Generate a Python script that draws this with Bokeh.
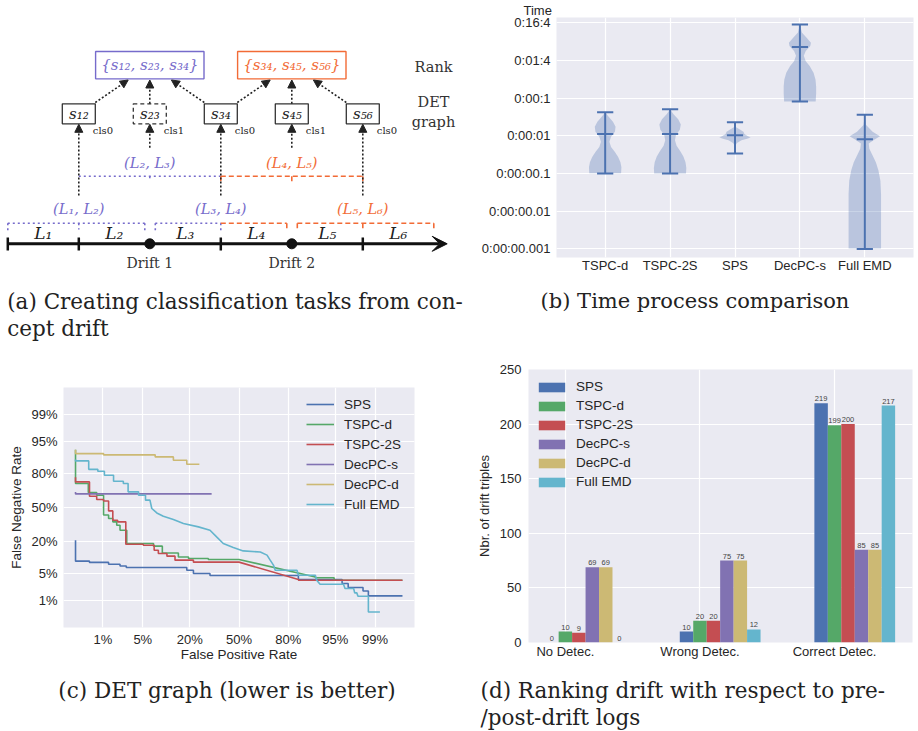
import math
from statistics import NormalDist
from bokeh.plotting import figure
from bokeh.layouts import column, row
from bokeh.models import (Range1d, FixedTicker, Legend, LegendItem,
                          Arrow, NormalHead, VeeHead, CustomJSTickFormatter)
from bokeh.core.properties import value
from bokeh.embed import file_html
from bokeh.resources import INLINE

# ---------------- DATA ----------------
# (a) diagram content
log_names = ["L₁", "L₂", "L₃", "L₄", "L₅", "L₆"]
drift_names = ["Drift 1", "Drift 2"]
drift_boundary = [2, 4]
tick_boundaries = [0, 1, 3, 5]
pair_labels = ["(L₁, L₂)", "(L₂, L₃)", "(L₃, L₄)", "(L₄, L₅)", "(L₅, L₆)"]
score_labels = ["s₁₂", "s₂₃", "s₃₄", "s₄₅", "s₅₆"]
score_cls = ["cls0", "cls1", "cls0", "cls1", "cls0"]
rank_sets = ["{s₁₂, s₂₃, s₃₄}", "{s₃₄, s₄₅, s₅₆}"]
side_labels = ["Rank", "DET", "graph"]

# (b) time comparison (seconds)
methods_b = ["TSPC-d", "TSPC-2S", "SPS", "DecPC-s", "Full EMD"]
time_tick_seconds = [0.001, 0.01, 0.1, 1, 10, 100, 1000]
time_tick_labels = ["0:00:00.001", "0:00:00.01", "0:00:00.1", "0:00:01",
                    "0:00:1", "0:01:4", "0:16:4"]
time_min_s = [0.10, 0.10, 0.34, 8.1, 0.001]
time_max_s = [4.2, 5.1, 2.3, 900.0, 3.6]
time_median_s = [1.11, 1.11, 1.04, 227.0, 0.81]
# violin outlines: log10(seconds) levels and relative density
kde_log_tspcd = [0.625, 0.51, 0.375, 0.24, 0.107, -0.027, -0.16, -0.295, -0.43, -0.56, -0.70, -0.83, -0.99]
kde_w_tspcd = [0.0, 0.2, 0.48, 0.64, 0.6, 0.36, 0.26, 0.36, 0.6, 0.8, 0.94, 1.0, 0.98]
kde_log_tspc2s = [0.705, 0.58, 0.44, 0.30, 0.16, 0.02, -0.12, -0.26, -0.40, -0.55, -0.70, -0.85, -1.0]
kde_w_tspc2s = [0.0, 0.2, 0.5, 0.66, 0.6, 0.36, 0.3, 0.4, 0.62, 0.82, 0.95, 1.0, 0.98]
kde_log_sps = [0.366, 0.24, 0.17, 0.107, 0.045, -0.01, -0.04, -0.07, -0.116, -0.19, -0.25, -0.473]
kde_w_sps = [0.0, 0.02, 0.3, 0.52, 0.58, 0.8, 0.96, 0.8, 0.4, 0.12, 0.04, 0.0]
kde_log_decpcs = [2.955, 2.74, 2.61, 2.47, 2.38, 2.25, 2.12, 1.98, 1.85, 1.67, 1.49, 1.31, 1.13, 0.955, 0.91]
kde_w_decpcs = [0.0, 0.12, 0.4, 0.68, 0.64, 0.36, 0.24, 0.36, 0.6, 0.84, 0.96, 1.0, 1.0, 0.98, 0.97]
kde_log_fullemd = [0.553, 0.286, 0.107, -0.009, -0.098, -0.205, -0.34, -0.52, -0.70, -0.92, -1.19, -1.54, -2.97, -2.99]
kde_w_fullemd = [0.0, 0.08, 0.48, 0.94, 0.6, 0.24, 0.28, 0.48, 0.68, 0.84, 0.96, 1.0, 1.0, 1.0]

# (c) DET curves (false positive rate %, false negative rate %)
det_tick_pct = [1, 5, 20, 50, 80, 95, 99]
det_tick_labels = ["1%", "5%", "20%", "50%", "80%", "95%", "99%"]
sps_fpr = [0.26, 0.26, 0.53, 0.53, 1.29, 1.29, 2.1, 2.1, 2.7, 2.7, 18.6, 18.6, 21.8, 21.8, 31.0, 31.0, 84.5, 84.5, 96.1, 96.1, 96.9, 96.9, 98.3, 98.3, 98.65, 98.65, 99.74]
sps_fnr = [20.7, 9.0, 9.0, 8.5, 8.5, 7.8, 7.8, 7.2, 7.2, 6.7, 6.7, 5.85, 5.85, 4.95, 4.95, 4.45, 4.45, 3.6, 3.6, 2.87, 2.87, 2.28, 2.28, 1.85, 1.85, 1.36, 1.36]
tspcd_fpr = [0.26, 0.26, 0.5, 0.5, 0.75, 0.75, 1.03, 1.03, 1.29, 1.29, 1.55, 1.55, 1.83, 1.83, 2.1, 2.1, 2.75, 2.75, 7.2, 7.2, 9.5, 9.5, 15.0, 15.0, 19.4, 19.4, 30.0, 30.0, 50.0, 90.4, 90.4, 94.8, 94.8, 99.74]
tspcd_fnr = [92.6, 72.6, 72.6, 64.6, 64.6, 62.0, 62.0, 42.5, 42.5, 39.2, 39.2, 36.0, 36.0, 32.9, 32.9, 28.5, 28.5, 18.4, 18.4, 16.7, 16.7, 12.8, 12.8, 10.8, 10.8, 10.1, 10.1, 9.7, 9.7, 4.1, 3.95, 3.95, 3.45, 3.45]
tspc2s_fpr = [0.26, 0.26, 0.53, 0.53, 0.75, 0.75, 1.03, 1.03, 1.29, 1.29, 1.55, 1.55, 1.9, 1.9, 2.65, 2.65, 5.1, 5.1, 7.35, 7.35, 8.4, 8.4, 10.9, 10.9, 13.7, 13.7, 21.8, 21.8, 50.0, 84.5, 84.5, 99.74]
tspc2s_fnr = [77.5, 73.9, 73.9, 61.1, 61.1, 57.9, 57.9, 56.5, 56.5, 46.6, 46.6, 37.5, 37.5, 36.0, 36.0, 17.9, 17.9, 17.3, 17.3, 14.3, 14.3, 12.5, 12.5, 11.2, 11.2, 9.4, 9.4, 8.6, 8.6, 3.6, 3.45, 3.45]
decpcs_fpr = [0.26, 0.26, 32.0]
decpcs_fnr = [65.0, 63.3, 63.3]
decpcd_fpr = [0.26, 0.26, 1.03, 1.03, 7.6, 7.6, 13.1, 13.1, 18.6, 18.6, 24.9]
decpcd_fnr = [92.6, 91.1, 91.1, 90.6, 90.6, 89.7, 89.7, 88.1, 88.1, 86.0, 86.0]
fullemd_fpr = [0.26, 0.26, 0.51, 0.51, 0.79, 0.79, 1.07, 1.07, 1.6, 1.6, 2.4, 2.4, 2.9, 2.9, 4.3, 4.3, 5.5, 5.5, 6.4, 6.8, 8.0, 9.8, 13.1, 17.1, 24.4, 31.0, 35.1, 39.4, 46.1, 52.9, 64.2, 68.4, 70.3, 72.2, 73.2, 83.9, 84.5, 90.4, 90.8, 91.7, 96.3, 96.5, 97.5, 97.6, 97.8, 97.9, 98.65, 98.65, 99.2]
fullemd_fnr = [88.5, 87.8, 87.8, 83.0, 83.0, 81.8, 81.8, 79.0, 79.0, 74.4, 74.4, 72.6, 72.6, 65.2, 65.2, 62.0, 62.0, 57.3, 57.3, 49.0, 44.6, 41.4, 38.2, 34.5, 31.4, 28.5, 23.1, 18.4, 15.9, 13.9, 13.3, 11.7, 9.4, 7.5, 5.85, 5.85, 4.5, 4.5, 3.45, 2.75, 2.75, 2.15, 2.15, 1.64, 1.64, 1.33, 1.33, 0.45, 0.45]

# (d) ranking outcome counts
outcomes = ["No Detec.", "Wrong Detec.", "Correct Detec."]
methods_d = ["SPS", "TSPC-d", "TSPC-2S", "DecPC-s", "DecPC-d", "Full EMD"]
sps_counts = [0, 10, 219]
tspcd_counts = [10, 20, 199]
tspc2s_counts = [9, 20, 200]
decpcs_counts = [69, 75, 85]
decpcd_counts = [69, 75, 85]
fullemd_counts = [0, 12, 217]

# captions
caption_a = ["(a) Creating classification tasks from con-", "cept drift"]
caption_b = "(b) Time process comparison"
caption_c = "(c) DET graph (lower is better)"
caption_d = ["(d) Ranking drift with respect to pre-", "/post-drift logs"]

# ---------------- STYLE ----------------
PALETTE = ["#4c72b0", "#55a868", "#c44e52", "#8172b2", "#ccb974", "#64b5cd"]
PURPLE = "#766bcb"
ORANGE = "#f26b36"
INK = "#222222"
SANS = "Liberation Sans"
SERIF = "DejaVu Serif"
TXT = "#262626"


def seaborn_style(p):
    p.background_fill_color = "#eaeaf2"
    p.border_fill_color = "white"
    p.outline_line_color = None
    p.grid.grid_line_color = "white"
    p.grid.grid_line_width = 1.2
    for ax in p.axis:
        ax.axis_line_color = None
        ax.major_tick_line_color = None
        ax.minor_tick_line_color = None
        ax.major_tick_out = 0
        ax.major_tick_in = 0
        ax.major_label_text_font = SANS
        ax.major_label_text_font_size = "13px"
        ax.major_label_text_color = TXT
        ax.axis_label_text_font = SANS
        ax.axis_label_text_font_size = "13.5px"
        ax.axis_label_text_font_style = "normal"
        ax.axis_label_text_color = TXT


def blank_fig(w, h, xr, yr):
    p = figure(width=w, height=h, x_range=Range1d(*xr), y_range=Range1d(*yr),
               x_axis_location=None, y_axis_location=None, frame_align=False,
               output_backend="svg", toolbar_location=None, min_border=0)
    p.grid.visible = False
    p.outline_line_color = None
    p.background_fill_color = "white"
    p.border_fill_color = "white"
    return p


# ---------------- (a) diagram ----------------
pa = blank_fig(473, 278, (0, 473), (278, 0))
t0, seg = 7.3, 71.0


def bx(k):
    return t0 + seg * k


y_line = 243.3
pa.add_layout(Arrow(end=VeeHead(size=15, fill_color="#111111", line_color="#111111"),
                    x_start=bx(0), y_start=y_line, x_end=bx(6) + 13.4, y_end=y_line,
                    line_width=3, line_color="#111111"))
pa.segment(x0=[bx(k) for k in tick_boundaries], y0=[237.0] * len(tick_boundaries),
           x1=[bx(k) for k in tick_boundaries], y1=[250.0] * len(tick_boundaries),
           line_width=2.5, line_color="#111111")
pa.scatter(x=[bx(k) for k in drift_boundary], y=[y_line] * len(drift_boundary),
           size=10, color="#111111")
pa.text(x=[bx(k) for k in drift_boundary], y=[262.0] * len(drift_boundary), text=drift_names,
        text_font=value(SERIF), text_font_size="14px", text_color="#333333",
        text_align="center", text_baseline="middle")
pa.text(x=[(bx(i) + bx(i + 1)) / 2 for i in range(len(log_names))], y=[232.0] * len(log_names),
        text=log_names, text_font=value(SERIF), text_font_style="italic",
        text_font_size="17px", text_color=INK, text_align="center", text_baseline="middle")


def bracket(x0, x1, y, drop, color, dash, ends=(True, True), mid=None):
    xs = [[x0, x1]]
    ys = [[y, y]]
    if ends[0]:
        xs.append([x0, x0]); ys.append([y, y + drop])
    if ends[1]:
        xs.append([x1, x1]); ys.append([y, y + drop])
    if mid is not None:
        xs.append([mid, mid]); ys.append([y, y + drop * 0.8])
    pa.multi_line(xs=xs, ys=ys, line_color=color, line_width=1.6, line_dash=dash)


DOT = "2 3"
DASH = "5 3"
y_low, y_up = 222.7, 175.7
# lower-row pairs (L1,L2), (L3,L4), (L5,L6)
bracket(bx(0), bx(2) - 5, y_low, 8, PURPLE, DOT, mid=bx(1))
bracket(bx(2) + 5.5, bx(3), y_low, 9, PURPLE, DOT, ends=(True, True))
bracket(bx(3), bx(4) - 5, y_low, 6, ORANGE, DASH, ends=(False, True))
bracket(bx(4) + 5.5, bx(6), y_low, 7, ORANGE, DASH, mid=bx(5))
# upper-row pairs (L2,L3), (L4,L5)
bracket(bx(1), bx(3), y_up, 5, PURPLE, DOT, ends=(False, False), mid=bx(2))
bracket(bx(3), bx(5), y_up, 7, ORANGE, DASH, ends=(True, True), mid=bx(4))

pair_y = [208.3, 162.3, 208.3, 162.3, 208.3]
pair_col = [PURPLE, PURPLE, PURPLE, ORANGE, ORANGE]
pa.text(x=[bx(i + 1) for i in range(len(pair_labels))], y=pair_y, text=pair_labels,
        text_font=value(SERIF), text_font_style="italic", text_font_size="14.5px",
        text_color=pair_col, text_align="center", text_baseline="middle")

# arrows from pairs to DET scores
for i in range(len(score_labels)):
    ys = 195.0 if i % 2 == 0 else 147.3
    pa.add_layout(Arrow(end=NormalHead(size=8, fill_color=INK, line_color=INK),
                        x_start=bx(i + 1), y_start=ys, x_end=bx(i + 1), y_end=123.8,
                        line_width=1.6, line_dash="2 2", line_color=INK))

# score boxes
score_x = [bx(i + 1) for i in range(len(score_labels))]
solid_idx = [i for i in range(len(score_labels)) if i != 1]
pa.rect(x=[score_x[i] for i in solid_idx], y=[113.3] * len(solid_idx), width=33, height=20,
        fill_color="white", line_color="#333333", line_width=1.3)
pa.rect(x=[score_x[1]], y=[113.3], width=33, height=20, fill_color="white",
        line_color="#333333", line_width=1.3, line_dash="4 3")
pa.text(x=score_x, y=[113.3] * 5, text=score_labels, text_font=value(SERIF),
        text_font_style="italic", text_font_size="15px", text_color=INK,
        text_align="center", text_baseline="middle")
pa.text(x=[x + 14 for x in score_x], y=[130.0] * 5, text=score_cls, text_font=value(SERIF),
        text_font_size="10px", text_color=INK, text_align="left", text_baseline="middle")

# rank boxes
rank_x = [bx(k) for k in drift_boundary]
rank_col = [PURPLE, ORANGE]
pa.rect(x=rank_x, y=[64.7, 64.7], width=108.4, height=27.3, fill_color="white",
        line_color=rank_col, line_width=1.4)
pa.text(x=rank_x, y=[64.7, 64.7], text=rank_sets, text_font=value(SERIF),
        text_font_style="italic", text_font_size="15px", text_color=rank_col,
        text_align="center", text_baseline="middle")

# arrows from scores to rank boxes
for g, k in enumerate(drift_boundary):
    members = [k - 2, k - 1, k]  # score indices
    for j, m in enumerate(members):
        off = j - 1
        sx = score_x[m] - off * 16.5
        ex = rank_x[g] + off * 21.6
        sy = 102.0 if off != 0 else 103.3
        pa.add_layout(Arrow(end=NormalHead(size=8, fill_color=INK, line_color=INK),
                            x_start=sx, y_start=sy, x_end=ex, y_end=79.5,
                            line_width=1.6, line_dash="2 2", line_color=INK))

pa.text(x=[433.0] * 3, y=[66.0, 101.7, 121.7], text=side_labels, text_font=value(SERIF),
        text_font_size="14.5px", text_color="#333333", text_align="center", text_baseline="middle")

# ---------------- (b) violin ----------------
pb = figure(width=445, height=278, x_range=Range1d(0.25, 5.75), y_range=Range1d(-3.226, 3.137),
            output_backend="svg", toolbar_location=None, frame_align=False,
            min_border_left=83, min_border_right=5, min_border_top=13, min_border_bottom=21)
seaborn_style(pb)
pb.title.text = "Time"
pb.title.align = "left"
pb.title.offset = -33
pb.title.standoff = 0
pb.title.text_font = SANS
pb.title.text_font_size = "13px"
pb.title.text_font_style = "normal"
pb.title.text_color = TXT
positions = list(range(1, len(methods_b) + 1))
pb.xaxis.ticker = FixedTicker(ticks=positions)
pb.xaxis.major_label_overrides = {p: m for p, m in zip(positions, methods_b)}
tick_logs = [int(round(math.log10(s))) for s in time_tick_seconds]
pb.yaxis.ticker = FixedTicker(ticks=tick_logs)
pb.yaxis.major_label_overrides = {t: l for t, l in zip(tick_logs, time_tick_labels)}
pb.xaxis.major_label_standoff = 0
pb.yaxis.major_label_standoff = 6

kde_logs = [kde_log_tspcd, kde_log_tspc2s, kde_log_sps, kde_log_decpcs, kde_log_fullemd]
kde_ws = [kde_w_tspcd, kde_w_tspc2s, kde_w_sps, kde_w_decpcs, kde_w_fullemd]
half = 0.25
vx, vy = [], []
for pos, lg, w in zip(positions, kde_logs, kde_ws):
    xs = [pos + half * a for a in w] + [pos - half * a for a in reversed(w)]
    ys = list(lg) + list(reversed(lg))
    vx.append(xs)
    vy.append(ys)
pb.patches(xs=vx, ys=vy, fill_color="#4c72b0", fill_alpha=0.3, line_color=None)
lo = [math.log10(v) for v in time_min_s]
hi = [math.log10(v) for v in time_max_s]
md = [math.log10(v) for v in time_median_s]
cap = 0.125
pb.segment(x0=positions, y0=lo, x1=positions, y1=hi, line_color="#4c72b0", line_width=2)
for arr in (lo, hi, md):
    pb.segment(x0=[p - cap for p in positions], y0=arr, x1=[p + cap for p in positions], y1=arr,
               line_color="#4c72b0", line_width=2)

# ---------------- (c) DET ----------------
nd = NormalDist()


def probit(pcts):
    return [nd.inv_cdf(v / 100.0) for v in pcts]


pc = figure(width=473, height=315, x_range=Range1d(-3, 3), y_range=Range1d(-3, 3),
            output_backend="svg", toolbar_location=None, frame_align=False,
            min_border_left=63, min_border_right=59, min_border_top=34, min_border_bottom=41)
seaborn_style(pc)
det_ticks = probit(det_tick_pct)
det_fmt = CustomJSTickFormatter(args=dict(vals=det_ticks, labels=det_tick_labels), code="""
let best = 0, bd = 1e9;
for (let i = 0; i < vals.length; i++) {
  const d = Math.abs(vals[i] - tick);
  if (d < bd) { bd = d; best = i; }
}
return labels[best];
""")
for ax in (pc.xaxis, pc.yaxis):
    ax.ticker = FixedTicker(ticks=det_ticks)
    ax.formatter = det_fmt
pc.xaxis.axis_label = "False Positive Rate"
pc.yaxis.axis_label = "False Negative Rate"
pc.xaxis.major_label_standoff = 4
pc.xaxis.axis_label_standoff = -3
pc.yaxis.major_label_standoff = 6
pc.yaxis.axis_label_standoff = 4

det_series = [("SPS", sps_fpr, sps_fnr), ("TSPC-d", tspcd_fpr, tspcd_fnr),
              ("TSPC-2S", tspc2s_fpr, tspc2s_fnr), ("DecPC-s", decpcs_fpr, decpcs_fnr),
              ("DecPC-d", decpcd_fpr, decpcd_fnr), ("Full EMD", fullemd_fpr, fullemd_fnr)]
items_c = []
for (name, fx, fy), col in zip(det_series, PALETTE):
    r = pc.line(x=probit(fx), y=probit(fy), line_color=col, line_width=1.6)
    items_c.append(LegendItem(label=name, renderers=[r]))
leg_c = Legend(items=items_c, location=(243, 113), padding=0, margin=0, spacing=0,
               glyph_width=28, glyph_height=20, label_height=20, label_standoff=10,
               label_text_font=SANS, label_text_font_size="13.5px", label_text_color=TXT,
               border_line_color=None, background_fill_alpha=0)
pc.add_layout(leg_c)

# ---------------- (d) bars ----------------
pd_ = figure(width=445, height=315, x_range=Range1d(-0.274, 2.579), y_range=Range1d(0, 250),
             output_backend="svg", toolbar_location=None, frame_align=False,
             min_border_left=50, min_border_right=6, min_border_top=16, min_border_bottom=26)
seaborn_style(pd_)
grp = list(range(len(outcomes)))
pd_.xaxis.ticker = FixedTicker(ticks=grp)
pd_.xaxis.major_label_overrides = {g: o for g, o in zip(grp, outcomes)}
pd_.yaxis.ticker = FixedTicker(ticks=[0, 50, 100, 150, 200, 250])
pd_.yaxis.axis_label = "Nbr. of drift triples"
pd_.yaxis.axis_label_text_font_size = "13px"
pd_.xaxis.major_label_standoff = 1
pd_.yaxis.major_label_standoff = 7
pd_.yaxis.axis_label_standoff = 5

all_counts = [sps_counts, tspcd_counts, tspc2s_counts, decpcs_counts, decpcd_counts, fullemd_counts]
bw = 0.1
items_d = []
for i, (name, cnt, col) in enumerate(zip(methods_d, all_counts, PALETTE)):
    xs = [g + (i - 1) * bw for g in grp]
    r = pd_.vbar(x=xs, top=cnt, width=bw, fill_color=col, line_color=None)
    pd_.text(x=xs, y=cnt, text=[str(c) for c in cnt], text_font=value(SANS),
             text_font_size="7.5px", text_color="#444444", text_align="center",
             text_baseline="bottom", y_offset=-2)
    items_d.append(LegendItem(label=name, renderers=[r]))
leg_d = Legend(items=items_d, location=(7, 151), padding=0, margin=0, spacing=0,
               glyph_width=33, glyph_height=12, label_height=19, label_standoff=8,
               label_text_font=SANS, label_text_font_size="13.5px", label_text_color=TXT,
               border_line_color=None, background_fill_alpha=0)
pd_.add_layout(leg_d)

# ---------------- captions ----------------
cap1 = blank_fig(918, 75, (0, 918), (353, 278))
cap1.text(x=[6.7, 6.7], y=[300.5, 327.5], text=caption_a, text_font=value(SERIF),
          text_font_size="21.5px", text_color=INK, text_align="left", text_baseline="middle")
cap1.text(x=[694.5], y=[300.5], text=[caption_b], text_font=value(SERIF),
          text_font_size="21px", text_color=INK, text_align="center", text_baseline="middle")

cap2 = blank_fig(918, 63, (0, 918), (731, 668))
cap2.text(x=[226.5], y=[690.0], text=[caption_c], text_font=value(SERIF),
          text_font_size="21.5px", text_color=INK, text_align="center", text_baseline="middle")
cap2.text(x=[480.0, 480.0], y=[690.0, 716.5], text=caption_d, text_font=value(SERIF),
          text_font_size="21.5px", text_color=INK, text_align="left", text_baseline="middle")

layout = column(row(pa, pb), cap1, row(pc, pd_), cap2)
open("out.html", "w").write(file_html(layout, INLINE))
